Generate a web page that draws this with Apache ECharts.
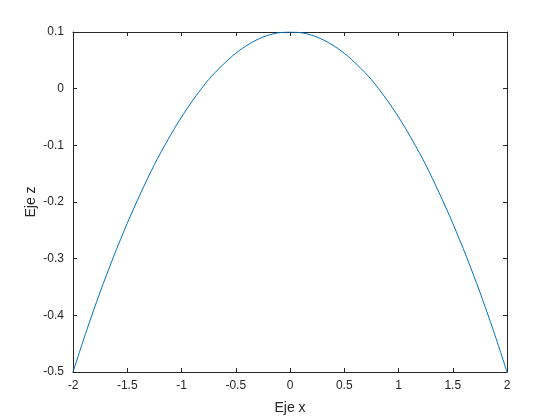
<!DOCTYPE html>
<html>
<head>
<meta charset="utf-8">
<script src="https://cdn.jsdelivr.net/npm/echarts@6/dist/echarts.min.js"></script>
<style>
  html, body { margin: 0; padding: 0; background: #fff; }
  #chart { width: 560px; height: 420px; }
</style>
</head>
<body>
<div id="chart"></div>
<script>
  // values
  var xs = [-2, -1.875, -1.75, -1.625, -1.5, -1.375, -1.25, -1.125, -1, -0.875, -0.75, -0.625, -0.5, -0.375, -0.25, -0.125,
    0, 0.125, 0.25, 0.375, 0.5, 0.625, 0.75, 0.875, 1, 1.125, 1.25, 1.375, 1.5, 1.625, 1.75, 1.875, 2]
  var zs = [-0.5, -0.427, -0.359, -0.296, -0.2375, -0.184, -0.134, -0.09, -0.05, -0.015, 0.016, 0.041, 0.0625, 0.079, 0.091, 0.098,
    0.1, 0.098, 0.091, 0.079, 0.0625, 0.041, 0.016, -0.015, -0.05, -0.09, -0.134, -0.184, -0.2375, -0.296, -0.359, -0.427, -0.5]
  var xTicks = [-2, -1.5, -1, -0.5, 0, 0.5, 1, 1.5, 2]
  var zTicks = [-0.5, -0.4, -0.3, -0.2, -0.1, 0, 0.1]

  var points = xs.map(function (x, i) { return [x, zs[i]] })
  var font = 'Liberation Sans, Arial, sans-serif'
  var axisLine = {show: true, onZero: false, lineStyle: {color: '#262626', width: 1}}
  var tick = {show: true, inside: true, length: 4, lineStyle: {color: '#262626'}}

  var chart = echarts.init(document.getElementById('chart'))
  chart.setOption({
    animation: false,
    grid: {left: 73, top: 32, right: 53, bottom: 47},
    xAxis: [
      {
        type: 'value', min: -2, max: 2, interval: 0.5, position: 'bottom',
        name: 'Eje x', nameLocation: 'middle', nameGap: 29,
        nameTextStyle: {fontFamily: font, fontSize: 14, color: '#262626'},
        axisLine: axisLine, axisTick: tick, splitLine: {show: false},
        axisLabel: {
          fontFamily: font, fontSize: 12, color: '#262626', margin: 8,
          formatter: function (v) { return xTicks.indexOf(v) >= 0 ? String(v) : '' }
        }
      },
      {
        type: 'value', min: -2, max: 2, interval: 0.5, position: 'top',
        axisLine: axisLine, axisTick: tick, axisLabel: {show: false}, splitLine: {show: false}
      }
    ],
    yAxis: [
      {
        type: 'value', min: -0.5, max: 0.1, interval: 0.1, position: 'left',
        name: 'Eje z', nameLocation: 'middle', nameGap: 35, nameRotate: 90,
        nameMoveOverlap: false,
        nameTextStyle: {fontFamily: font, fontSize: 14, color: '#262626'},
        axisLine: axisLine, axisTick: tick, splitLine: {show: false},
        axisLabel: {
          fontFamily: font, fontSize: 12, color: '#262626', margin: 9,
          formatter: function (v) {
            var r = Math.round(v * 10) / 10
            return zTicks.indexOf(r) >= 0 ? String(r) : ''
          }
        }
      },
      {
        type: 'value', min: -0.5, max: 0.1, interval: 0.1, position: 'right',
        axisLine: axisLine, axisTick: tick, axisLabel: {show: false}, splitLine: {show: false}
      }
    ],
    series: [
      {
        type: 'line',
        data: points,
        smooth: 0.3,
        symbol: 'none',
        lineStyle: {color: '#0072BD', width: 1}
      }
    ]
  })
</script>
</body>
</html>
